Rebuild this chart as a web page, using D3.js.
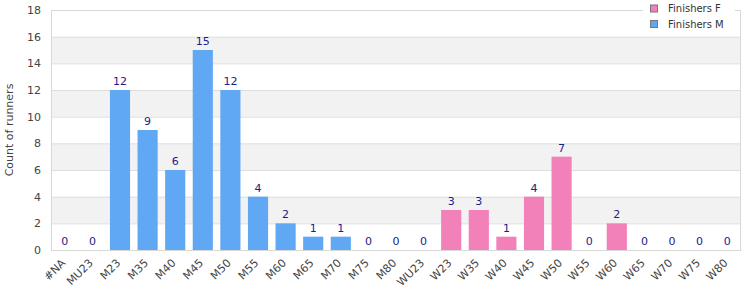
<!DOCTYPE html>
<html>
<head>
<meta charset="utf-8">
<script src="https://cdn.jsdelivr.net/npm/d3@7"></script>
<style>
  body { margin: 0; background: #fff; }
  svg { font-family: "DejaVu Sans", Verdana, sans-serif; }
</style>
</head>
<body>
<svg id="graphic" width="750" height="300"></svg>
<script>
var categories = ["#NA", "MU23", "M23", "M35", "M40", "M45", "M50", "M55", "M60", "M65", "M70", "M75", "M80",
  "WU23", "W23", "W35", "W40", "W45", "W50", "W55", "W60", "W65", "W70", "W75", "W80"];
var counts = [0, 0, 12, 9, 6, 15, 12, 4, 2, 1, 1, 0, 0, 0, 3, 3, 1, 4, 7, 0, 2, 0, 0, 0, 0];
var groups = ["M", "M", "M", "M", "M", "M", "M", "M", "M", "M", "M", "M", "M",
  "F", "F", "F", "F", "F", "F", "F", "F", "F", "F", "F", "F"];
var yTicks = [0, 2, 4, 6, 8, 10, 12, 14, 16, 18];
var legendLabels = ["Finishers F", "Finishers M"];

var colors = { F: "#f381b9", M: "#60a8f4" };

var svg = d3.select("#graphic");
var plotLeft = 51, plotRight = 741, plotTop = 10, plotBottom = 250;

var x = d3.scaleBand().domain(categories).range([plotLeft, plotRight]).paddingInner(0.27).paddingOuter(0.135);
var y = d3.scaleLinear().domain([0, 18]).range([plotBottom, plotTop]);

// alternating bands
var bands = d3.range(0, 18, 2);
svg.append("g").selectAll("rect").data(bands).enter().append("rect")
  .attr("x", plotLeft).attr("width", plotRight - plotLeft)
  .attr("y", d => y(d + 2)).attr("height", d => y(d) - y(d + 2))
  .attr("fill", d => (d / 2) % 2 == 1 ? "#f2f2f2" : "#ffffff");

// grid lines
svg.append("g").selectAll("line").data(yTicks).enter().append("line")
  .attr("x1", plotLeft).attr("x2", plotRight)
  .attr("y1", d => y(d) + 0.5).attr("y2", d => y(d) + 0.5)
  .attr("stroke", "#dedede");

// frame
svg.append("rect").attr("x", plotLeft + 0.5).attr("y", plotTop + 0.5)
  .attr("width", plotRight - plotLeft - 1).attr("height", plotBottom - plotTop)
  .attr("fill", "none").attr("stroke", "#d8d8d8");

// y axis
var yAxis = svg.append("g").attr("transform", "translate(" + plotLeft + ",0)")
  .call(d3.axisLeft(y).tickValues(yTicks).tickSize(0).tickPadding(10));
yAxis.select(".domain").remove();
yAxis.selectAll("text").attr("fill", "#444").style("font-size", "11px")
  .style("font-family", "DejaVu Sans, sans-serif");

// x axis
var xAxis = svg.append("g").attr("transform", "translate(0," + plotBottom + ")")
  .call(d3.axisBottom(x).tickSize(0).tickPadding(6));
xAxis.select(".domain").attr("stroke", "#d8d8d8");
xAxis.selectAll("text").attr("fill", "#444").style("font-size", "11px")
  .style("font-family", "DejaVu Sans, sans-serif")
  .attr("text-anchor", "end")
  .attr("dx", "0.3em").attr("dy", "0.6em")
  .attr("transform", "translate(-10,7) rotate(-45)");

// y title
svg.append("text")
  .attr("transform", "translate(9," + ((plotTop + plotBottom) / 2) + ") rotate(-90)")
  .attr("text-anchor", "middle").attr("dy", "0.35em")
  .attr("fill", "#444").style("font-size", "11px")
  .text("Count of runners");

// bars
svg.append("g").selectAll("rect").data(counts).enter().append("rect")
  .attr("x", (d, i) => x(categories[i]))
  .attr("width", x.bandwidth())
  .attr("y", d => y(d))
  .attr("height", d => plotBottom - y(d))
  .attr("fill", (d, i) => colors[groups[i]]);

// value labels
svg.append("g").selectAll("text").data(counts).enter().append("text")
  .attr("x", (d, i) => x(categories[i]) + x.bandwidth() / 2)
  .attr("y", d => y(d) - 5)
  .attr("text-anchor", "middle")
  .attr("fill", "#1c1c8a").style("font-size", "11px")
  .text(d => d);

// legend
var legend = svg.append("g");
legend.append("rect").attr("x", 643).attr("y", 0).attr("width", 92).attr("height", 30).attr("fill", "#fff");
legendLabels.forEach((label, i) => {
  var g = legend.append("g").attr("transform", "translate(650," + (4.5 + i * 15.5) + ")");
  g.append("rect").attr("x", 0.5).attr("y", 0.5).attr("width", 7).attr("height", 7)
    .attr("fill", i == 0 ? colors.F : colors.M).attr("stroke", "#777");
  g.append("text").attr("x", 18).attr("y", 4).attr("dy", "0.35em")
    .attr("fill", "#333").style("font-size", "10px").text(label);
});
</script>
</body>
</html>
